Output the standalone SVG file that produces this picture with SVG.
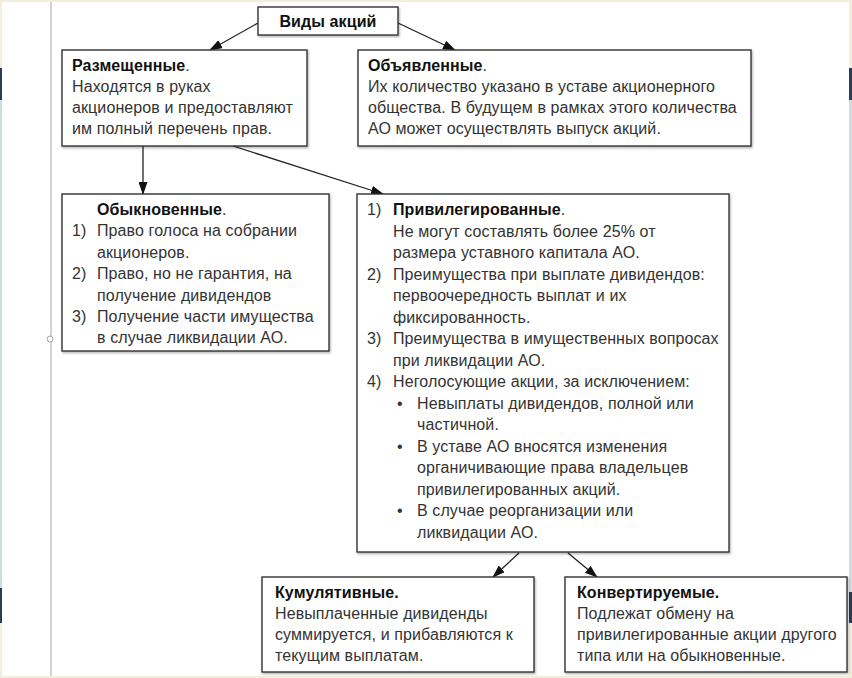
<svg xmlns="http://www.w3.org/2000/svg" width="852" height="678" viewBox="0 0 852 678">
<defs>
<style>
text{font-family:"Liberation Sans",Arial,sans-serif;font-size:16px;letter-spacing:0.1px;fill:#333}
.b{font-weight:bold;fill:#111}
.box{fill:#fff;stroke:#333;stroke-width:1.4}
.con{stroke:#222;stroke-width:1.3;fill:none;marker-end:url(#ah)}
</style>
<marker id="ah" viewBox="0 0 13 9" refX="12" refY="4.5" markerWidth="13" markerHeight="9" markerUnits="userSpaceOnUse" orient="auto">
<path d="M0,0 L13,4.5 L0,9 Z" fill="#111"/>
</marker>
<filter id="sh" x="-5%" y="-5%" width="110%" height="115%">
<feDropShadow dx="1" dy="1.5" stdDeviation="1.2" flood-color="#000" flood-opacity="0.3"/>
</filter>
</defs>
<rect x="0" y="0" width="852" height="678" fill="#f3eedb"/>
<rect x="0" y="68" width="2" height="32" fill="#2c3a5c"/>
<rect x="0" y="100" width="2" height="488" fill="#cfdcdb"/>
<rect x="0" y="588" width="2" height="35" fill="#2c3a5c"/>
<rect x="849" y="68" width="3" height="32" fill="#2c3a5c"/>
<rect x="849" y="100" width="3" height="492" fill="#cfdcdb"/>
<rect x="849" y="592" width="3" height="31" fill="#2c3a5c"/>
<rect x="2" y="2" width="847" height="674" fill="#fff"/>
<line x1="51" y1="2" x2="51" y2="676" stroke="#c8c8c8" stroke-width="1.6"/>
<circle cx="50" cy="339" r="3" fill="#fff" stroke="#aaa" stroke-width="1"/>

<g id="connectors">
<line class="con" x1="258" y1="23" x2="210" y2="50"/>
<line class="con" x1="398" y1="23" x2="455" y2="50"/>
<line class="con" x1="143" y1="146" x2="143" y2="194"/>
<line class="con" x1="233" y1="146" x2="383" y2="194"/>
<line class="con" x1="519" y1="553" x2="493" y2="577"/>
<line class="con" x1="568" y1="553" x2="597" y2="577"/>
</g>

<g id="root">
<rect class="box" x="258" y="7" width="140" height="28" filter="url(#sh)"/>
<text class="b" x="328" y="27" text-anchor="middle">Виды акций</text>
</g>

<g id="placed">
<rect class="box" x="62" y="50" width="245" height="96" filter="url(#sh)"/>
<text x="72" y="71"><tspan class="b">Размещенные</tspan>.</text>
<text x="72" y="92">Находятся в руках</text>
<text x="72" y="113">акционеров и предоставляют</text>
<text x="72" y="134">им полный перечень прав.</text>
</g>

<g id="declared">
<rect class="box" x="358" y="50" width="393" height="96" filter="url(#sh)"/>
<text x="368" y="71"><tspan class="b">Объявленные</tspan>.</text>
<text x="368" y="92">Их количество указано в уставе акционерного</text>
<text x="368" y="113">общества. В будущем в рамках этого количества</text>
<text x="368" y="134">АО может осуществлять выпуск акций.</text>
</g>

<g id="common">
<rect class="box" x="62" y="194" width="267" height="157" filter="url(#sh)"/>
<text x="97" y="215"><tspan class="b">Обыкновенные</tspan>.</text>
<text x="72" y="236.4">1)</text>
<text x="97" y="236.4">Право голоса на собрании</text>
<text x="97" y="257.8">акционеров.</text>
<text x="72" y="279.2">2)</text>
<text x="97" y="279.2">Право, но не гарантия, на</text>
<text x="97" y="300.6">получение дивидендов</text>
<text x="72" y="322">3)</text>
<text x="97" y="322">Получение части имущества</text>
<text x="97" y="343.4">в случае ликвидации АО.</text>
</g>

<g id="preferred">
<rect class="box" x="357" y="194" width="372" height="358" filter="url(#sh)"/>
<text x="367" y="215">1)</text>
<text x="393" y="215"><tspan class="b">Привилегированные</tspan>.</text>
<text x="393" y="236.5">Не могут составлять более 25% от</text>
<text x="393" y="258">размера уставного капитала АО.</text>
<text x="367" y="279.5">2)</text>
<text x="393" y="279.5">Преимущества при выплате дивидендов:</text>
<text x="393" y="301">первоочередность выплат и их</text>
<text x="393" y="322.5">фиксированность.</text>
<text x="367" y="344">3)</text>
<text x="393" y="344">Преимущества в имущественных вопросах</text>
<text x="393" y="365.5">при ликвидации АО.</text>
<text x="367" y="387">4)</text>
<text x="393" y="387">Неголосующие акции, за исключением:</text>
<text x="397" y="408.5">•</text>
<text x="417" y="408.5">Невыплаты дивидендов, полной или</text>
<text x="417" y="430">частичной.</text>
<text x="397" y="451.5">•</text>
<text x="417" y="451.5">В уставе АО вносятся изменения</text>
<text x="417" y="473">органичивающие права владельцев</text>
<text x="417" y="494.5">привилегированных акций.</text>
<text x="397" y="516">•</text>
<text x="417" y="516">В случае реорганизации или</text>
<text x="417" y="537.5">ликвидации АО.</text>
</g>

<g id="cumulative">
<rect class="box" x="262" y="577" width="272" height="95" filter="url(#sh)"/>
<text class="b" x="275" y="598">Кумулятивные.</text>
<text x="275" y="619">Невыплаченные дивиденды</text>
<text x="275" y="640">суммируется, и прибавляются к</text>
<text x="275" y="661">текущим выплатам.</text>
</g>

<g id="convertible">
<rect class="box" x="565" y="577" width="282" height="95" filter="url(#sh)"/>
<text class="b" x="577" y="598">Конвертируемые.</text>
<text x="577" y="619">Подлежат обмену на</text>
<text x="577" y="640">привилегированные акции другого</text>
<text x="577" y="661">типа или на обыкновенные.</text>
</g>
</svg>
